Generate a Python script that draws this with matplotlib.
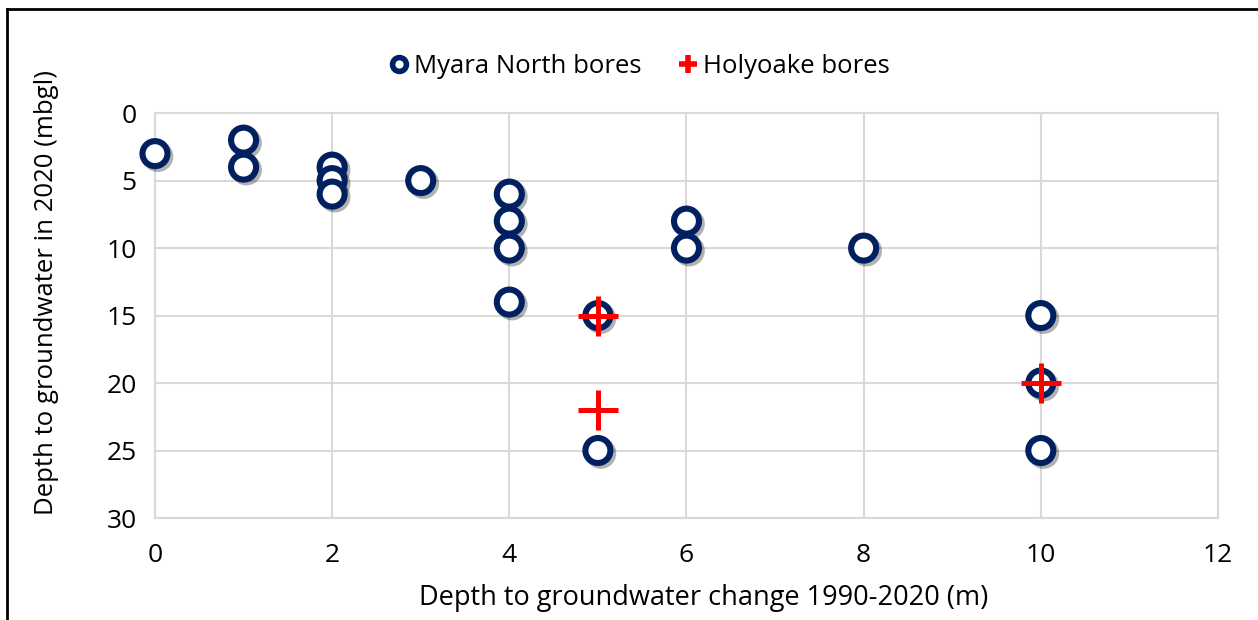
import matplotlib
matplotlib.use("Agg")
import matplotlib.pyplot as plt
import matplotlib.patheffects as pe
from matplotlib.lines import Line2D

plt.rcParams['font.family'] = ['Open Sans', 'DejaVu Sans']

# Myara North bores: change (m) vs depth in 2020 (mbgl)
myara_change = [0, 1, 1, 2, 2, 2, 3, 4, 4, 4, 4, 5, 5, 6, 6, 8, 10, 10, 10]
myara_depth = [3, 2, 4, 4, 5, 6, 5, 6, 8, 10, 14, 15, 25, 8, 10, 10, 15, 20, 25]

# Holyoake bores
holy_change = [5, 5, 10]
holy_depth = [15, 22, 20]

x_ticks = [0, 2, 4, 6, 8, 10, 12]
y_ticks = [0, 5, 10, 15, 20, 25, 30]

navy = "#002060"
grid_c = "#d9d9d9"

fig = plt.figure(figsize=(12.58, 6.2), dpi=100)
ax = fig.add_axes([0.1232, 0.1645, 0.845, 0.653])

shadow = [pe.SimpleLineShadow(offset=(2, -2), shadow_color="black", alpha=0.3), pe.Normal()]

ax.plot(myara_change, myara_depth, linestyle="none", marker="o", ms=18,
        mfc="white", mec=navy, mew=4.4, path_effects=shadow, zorder=3, clip_on=False)
ax.plot(holy_change, holy_depth, linestyle="none", marker="+", ms=29,
        mec="#ff0000", mew=3.6, zorder=4, clip_on=False)

ax.set_xlim(0, 12)
ax.set_ylim(30, 0)
ax.set_xticks(x_ticks)
ax.set_yticks(y_ticks)
ax.grid(True, color=grid_c, linewidth=1.5)
ax.set_axisbelow(True)
for s in ax.spines.values():
    s.set_color(grid_c)
    s.set_linewidth(1.5)
ax.tick_params(length=0, labelsize=19)
ax.tick_params(axis="x", pad=18)
ax.tick_params(axis="y", pad=13)

ax.set_xlabel("Depth to groundwater change 1990-2020 (m)", fontsize=19.5, va="center")
ax.set_ylabel("Depth to groundwater in 2020 (mbgl)", fontsize=18.5, va="center")
ax.xaxis.set_label_coords(0.516, -0.1975)
ax.yaxis.set_label_coords(-0.1016, 0.558)

handles = [
    Line2D([], [], linestyle="none", marker="o", ms=10, mfc="white", mec=navy, mew=4),
    Line2D([], [], linestyle="none", marker="+", ms=13, mec="#ff0000", mew=4),
]
fig.legend(handles, ["Myara North bores", "Holyoake bores"], loc="center",
           bbox_to_anchor=(0.508, 0.893), ncol=2, frameon=False, fontsize=18.5,
           handlelength=0.8, handletextpad=0.2, columnspacing=1.4)

# figure border (top and left edges visible in the crop)
fig.add_artist(Line2D([0.0056, 0.0056], [0, 0.985], transform=fig.transFigure,
                      color="black", linewidth=2))
fig.add_artist(Line2D([0.0056, 1.0], [0.985, 0.985], transform=fig.transFigure,
                      color="black", linewidth=2))

fig.savefig("out.png", dpi=100)
